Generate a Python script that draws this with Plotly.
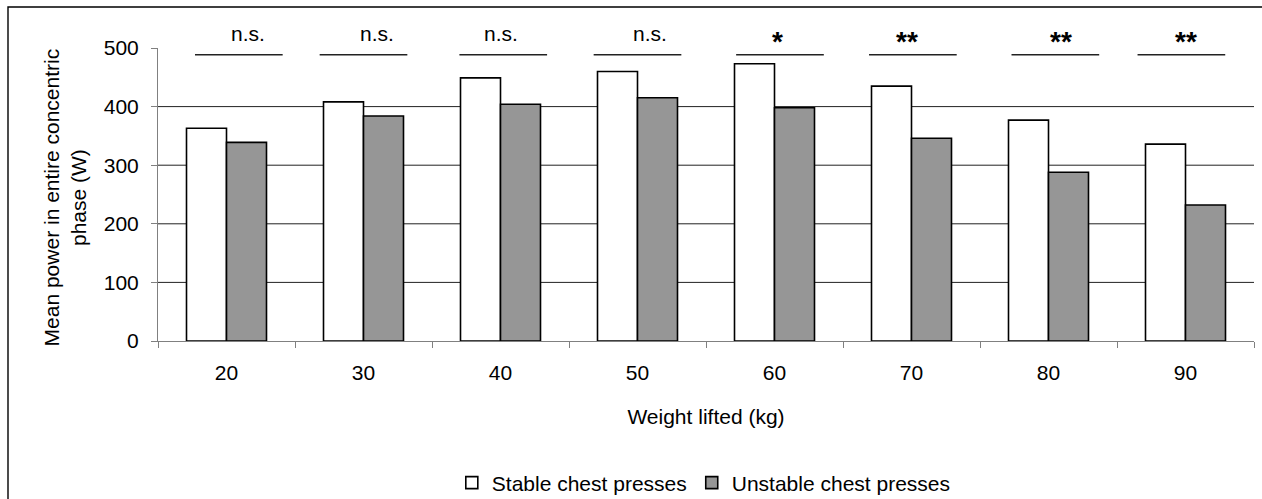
import plotly.graph_objects as go

# Mean power (W) in the entire concentric phase, per load
weights = ["20", "30", "40", "50", "60", "70", "80", "90"]
stable_power = [363, 408, 449, 460, 473, 435, 377, 336]
unstable_power = [339, 384, 404, 415, 398, 346, 288, 232]
significance = ["n.s.", "n.s.", "n.s.", "n.s.", "*", "**", "**", "**"]
y_ticks = [0, 100, 200, 300, 400, 500]
y_max = 500

# small hand-placed nudges of the significance bars/labels (category units)
line_shift = [0.09, 0.0, 0.02, 0.0, 0.04, 0.01, 0.05, -0.03]
label_shift = [0.16, 0.10, 0.0, 0.09, 0.02, -0.03, 0.09, 0.0]

FONT = "Liberation Sans, Arial, sans-serif"
W, H = 1262, 499
M_L, M_R, M_T, M_B = 158, 8, 48, 158
PW, PH = W - M_L - M_R, H - M_T - M_B


def px_to_paper_y(py):
    """Convert a pixel row of the page into paper y."""
    return (H - M_B - py) / PH


fig = go.Figure()
fig.add_trace(go.Bar(
    x=weights, y=stable_power, name="Stable chest presses",
    marker=dict(color="white", line=dict(color="black", width=1.6)),
))
fig.add_trace(go.Bar(
    x=weights, y=unstable_power, name="Unstable chest presses",
    marker=dict(color="#969696", line=dict(color="black", width=1.6)),
))

shapes = []
# horizontal grid lines (none at the top edge)
for v in y_ticks[1:-1]:
    shapes.append(dict(type="line", xref="paper", x0=0, x1=1, yref="y", y0=v, y1=v,
                       line=dict(color="#222222", width=1), layer="below"))

annotations = []
sig_y = 488.5
for i, lab in enumerate(significance):
    cx = i + line_shift[i]
    shapes.append(dict(type="line", xref="x", yref="y", x0=cx - 0.32, x1=cx + 0.32,
                       y0=sig_y, y1=sig_y, line=dict(color="#222222", width=1.6)))
    star = lab.startswith("*")
    annotations.append(dict(
        x=i + label_shift[i], y=(px_to_paper_y(41) if star else px_to_paper_y(34)),
        xref="x", yref="paper",
        text=(f"<b>{lab}</b>" if star else lab), showarrow=False,
        xanchor="center", yanchor="middle",
        font=dict(family=FONT, size=(28 if star else 21), color="black"),
    ))

# outer chart frame
shapes.append(dict(type="rect", xref="paper", yref="paper",
                   x0=(8 - M_L) / PW, x1=1.3, y0=-1.0, y1=px_to_paper_y(7),
                   line=dict(color="black", width=1.4), fillcolor="rgba(0,0,0,0)"))

# y-axis title (two lines, rotated)
annotations.append(dict(
    x=(65 - M_L) / PW, y=0.49, xref="paper", yref="paper",
    text="Mean power in entire concentric<br>phase (W)", textangle=-90,
    showarrow=False, xanchor="center", yanchor="middle",
    font=dict(family=FONT, size=21, color="black"),
))

fig.update_layout(
    width=W, height=H,
    margin=dict(l=M_L, r=M_R, t=M_T, b=M_B, pad=0, autoexpand=False),
    paper_bgcolor="white", plot_bgcolor="white",
    barmode="group", bargap=0.416, bargroupgap=0,
    font=dict(family=FONT, size=21, color="black"),
    shapes=shapes, annotations=annotations,
    showlegend=True,
    legend=dict(orientation="h", x=0.498, y=1 - 483 / H, yref="container",
                xanchor="center", yanchor="middle",
                font=dict(family=FONT, size=21, color="black"),
                itemclick=False, traceorder="normal"),
    xaxis=dict(
        type="category", tickson="boundaries", ticks="outside", ticklen=6,
        tickcolor="#808080", tickwidth=1, showline=True, linecolor="#808080", linewidth=1,
        showgrid=False, ticklabelstandoff=13, automargin=False,
        title=dict(text="Weight lifted (kg)", standoff=26,
                   font=dict(family=FONT, size=21, color="black")),
    ),
    yaxis=dict(
        range=[0, y_max], tickvals=y_ticks, ticks="outside", ticklen=6,
        tickcolor="#808080", tickwidth=1, showline=True, linecolor="#808080", linewidth=1,
        showgrid=False, zeroline=False, ticklabelstandoff=8, automargin=False,
    ),
)

fig.write_html("out.html")
